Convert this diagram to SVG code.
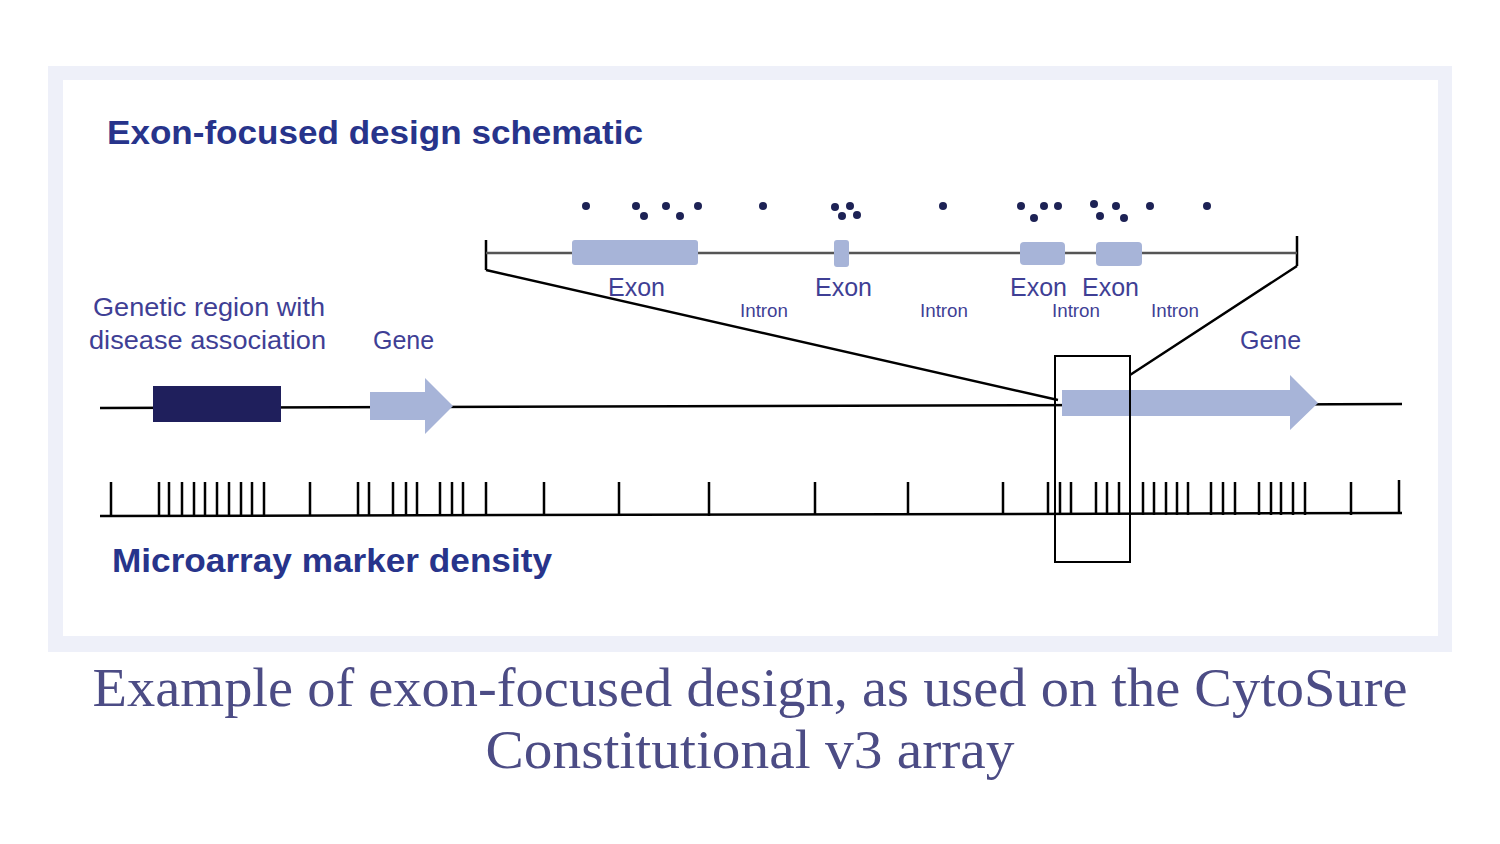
<svg xmlns="http://www.w3.org/2000/svg" width="1500" height="844" viewBox="0 0 1500 844">
<style>
.lbl{font-family:"Liberation Sans",Arial,sans-serif;fill:#3f3f95;font-size:25px}
.sm{font-family:"Liberation Sans",Arial,sans-serif;fill:#3f3f95;font-size:18px}
.ttl{font-family:"Liberation Sans",Arial,sans-serif;fill:#27348b;font-size:33px;font-weight:bold}
.cap{font-family:"Liberation Serif","Times New Roman",serif;fill:#4c4c85;font-size:54px}
.ln{stroke:#000;stroke-width:2.5;fill:none}
.ex{fill:#a7b4d8}
.dt{fill:#1d2255}
</style>
<rect width="1500" height="844" fill="#fff"/>
<rect x="48" y="66" width="1404" height="586" fill="#eef0f9"/>
<rect x="63" y="80" width="1375" height="556" fill="#fff"/>
<text class="ttl" x="107" y="144" textLength="536" lengthAdjust="spacingAndGlyphs">Exon-focused design schematic</text>
<text class="ttl" x="112" y="572" textLength="440" lengthAdjust="spacingAndGlyphs">Microarray marker density</text>
<g id="dots" class="dt">
<circle cx="586" cy="206" r="4"/><circle cx="636" cy="206" r="4"/><circle cx="644" cy="216" r="4"/><circle cx="666" cy="206" r="4"/><circle cx="680" cy="216" r="4"/><circle cx="698" cy="206" r="4"/><circle cx="763" cy="206" r="4"/><circle cx="835" cy="207" r="4"/><circle cx="850" cy="206" r="4"/><circle cx="842" cy="216" r="4"/><circle cx="857" cy="215" r="4"/><circle cx="943" cy="206" r="4"/><circle cx="1021" cy="206" r="4"/><circle cx="1034" cy="218" r="4"/><circle cx="1044" cy="206" r="4"/><circle cx="1058" cy="206" r="4"/><circle cx="1094" cy="204" r="4"/><circle cx="1100" cy="216" r="4"/><circle cx="1116" cy="206" r="4"/><circle cx="1124" cy="218" r="4"/><circle cx="1150" cy="206" r="4"/><circle cx="1207" cy="206" r="4"/>
</g>
<g id="connectors">
<path class="ln" d="M486 240V270M1297 236V266" stroke-width="2"/>
<path d="M486 253H1297" stroke="#555" stroke-width="2.5"/>
<path class="ln" d="M486 270L1058 400M1297 266L1130 375" stroke-width="2"/>
<path class="ln" d="M100 408L1402 404"/>
<path class="ln" d="M100 516L1402 513"/>
<path class="ln" d="M111 482v34M159 482v34M169 482v34M182 482v34M194 482v34M205 482v34M217 482v34M229 482v34M241 482v34M252 482v34M264 482v34M310 482v34M358 482v34M369 482v34M393 482v34M406 482v34M417 482v34M440 482v34M452 482v34M463 482v34M486 482v34M544 482v34M619 482v34M709 482v34M815 482v33M908 482v33M1003 482v33M1048 482v33M1060 482v33M1071 482v33M1096 482v33M1107 482v33M1119 482v33M1143 482v33M1154 482v33M1166 482v33M1177 482v33M1188 482v33M1211 482v33M1223 482v33M1235 482v33M1259 482v33M1271 482v33M1281 482v33M1293 482v33M1305 482v33M1351 482v33M1399 480v33"/>
</g>
<g id="exons" class="ex">
<rect x="572" y="240" width="126" height="25" rx="3"/>
<rect x="834" y="240" width="15" height="27" rx="3"/>
<rect x="1020" y="242" width="45" height="23" rx="4"/>
<rect x="1096" y="242" width="46" height="24" rx="4"/>
</g>
<g id="region"><rect x="153" y="386" width="128" height="36" fill="#1f1f5c"/></g>
<g id="gene1"><path class="ex" d="M370 392H425V378L453 406L425 434V420H370Z"/></g>
<g id="gene2"><path class="ex" d="M1062 390H1290V375L1318 403L1290 430V416H1062Z"/></g>
<g id="box"><rect x="1055" y="356" width="75" height="206" fill="none" stroke="#000" stroke-width="2"/></g>
<text class="lbl" x="608" y="296">Exon</text>
<text class="lbl" x="815" y="296">Exon</text>
<text class="lbl" x="1010" y="296">Exon</text>
<text class="lbl" x="1082" y="296">Exon</text>
<text class="sm" x="740" y="317" textLength="48" lengthAdjust="spacingAndGlyphs">Intron</text>
<text class="sm" x="920" y="317" textLength="48" lengthAdjust="spacingAndGlyphs">Intron</text>
<text class="sm" x="1052" y="317" textLength="48" lengthAdjust="spacingAndGlyphs">Intron</text>
<text class="sm" x="1151" y="317" textLength="48" lengthAdjust="spacingAndGlyphs">Intron</text>
<text class="lbl" x="93" y="316" textLength="232" lengthAdjust="spacingAndGlyphs">Genetic  region with</text>
<text class="lbl" x="89" y="349" textLength="237" lengthAdjust="spacingAndGlyphs">disease association</text>
<text class="lbl" x="373" y="349">Gene</text>
<text class="lbl" x="1240" y="349">Gene</text>
<text class="cap" x="750" y="706" text-anchor="middle" textLength="1315" lengthAdjust="spacingAndGlyphs">Example of exon-focused design, as used on the CytoSure</text>
<text class="cap" x="750" y="768" text-anchor="middle" textLength="529" lengthAdjust="spacingAndGlyphs">Constitutional v3 array</text>
</svg>
